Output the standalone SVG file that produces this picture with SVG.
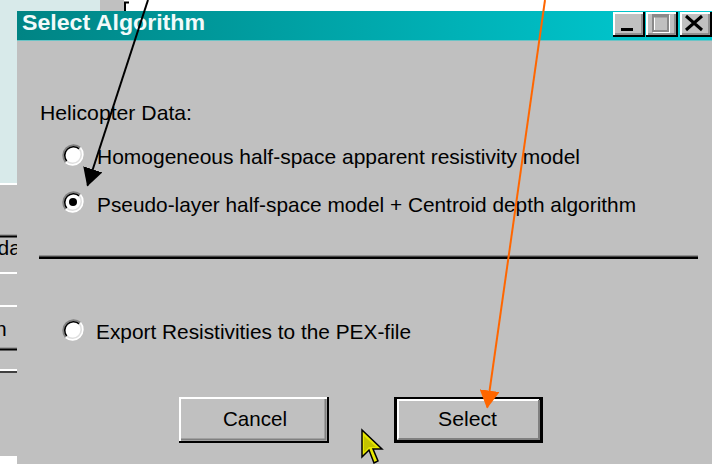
<svg xmlns="http://www.w3.org/2000/svg" xmlns:xlink="http://www.w3.org/1999/xlink" width="717" height="464" viewBox="0 0 717 464">
<style>
  .t { font-family: "Liberation Sans", Arial, sans-serif; font-size: 21px; fill: #000; }
  .title { font-family: "Liberation Sans", Arial, sans-serif; font-size: 22px; font-weight: bold; fill: #F2FAFA; }
  .face { fill: #C0C0C0; }
  .hl { stroke: #FFFFFF; stroke-width: 2; fill: none; }
  .sh { stroke: #808080; stroke-width: 2; fill: none; }
  .dk { stroke: #000000; stroke-width: 2; fill: none; }
  .conn { fill: none; stroke-width: 2; }
</style>
<defs>
  <linearGradient id="tbar" x1="0" y1="0" x2="1" y2="0">
    <stop offset="0" stop-color="#008484"/>
    <stop offset="1" stop-color="#00CCD4"/>
  </linearGradient>
  <clipPath id="leftclip"><rect x="0" y="0" width="17" height="464"/></clipPath>
  <g id="radio">
    <circle cx="0" cy="0" r="10" fill="#FFFFFF"/>
    <path d="M-7.4,7.4 A10.5,10.5 0 0 1 7.4,-7.4" stroke="#808080" stroke-width="1.6" fill="none"/>
    <path d="M-6.2,6.2 A8.8,8.8 0 0 1 6.2,-6.2" stroke="#000000" stroke-width="1.6" fill="none"/>
    <path d="M7.4,-7.4 A10.5,10.5 0 0 1 -7.4,7.4" stroke="#FFFFFF" stroke-width="1.6" fill="none"/>
    <path d="M6.2,-6.2 A8.8,8.8 0 0 1 -6.2,6.2" stroke="#DFDFDF" stroke-width="1.6" fill="none"/>
  </g>
  <marker id="headBlack" markerUnits="userSpaceOnUse" markerWidth="18" markerHeight="20" refX="17" refY="10" orient="auto" viewBox="0 0 18 20">
    <path d="M0,0 L18,10 L0,20 z" fill="#000000"/>
  </marker>
  <marker id="headOrange" markerUnits="userSpaceOnUse" markerWidth="18" markerHeight="20" refX="17" refY="10" orient="auto" viewBox="0 0 18 20">
    <path d="M0,0 L18,10 L0,20 z" fill="#FF6600"/>
  </marker>
</defs>

<!-- background window pieces -->
<rect x="0" y="0" width="717" height="464" fill="#FFFFFF"/>
<rect x="0" y="0" width="100" height="11" fill="#D8EAEA"/>
<rect x="100" y="0" width="24" height="11" fill="#C0C0C0"/>
<path d="M125,11 V2.5 H129" stroke="#000" stroke-width="2" fill="none"/>
<rect x="0" y="0" width="17" height="183" fill="#D8EAEA"/>
<rect x="0" y="183" width="17" height="273" fill="#C0C0C0"/>
<rect x="0" y="183" width="17" height="2" fill="#FFFFFF"/>
<rect x="0" y="234.5" width="17" height="1" fill="#808080"/>
<rect x="0" y="235.5" width="17" height="2" fill="#000000"/>
<rect x="0" y="272" width="17" height="2" fill="#FFFFFF"/>
<rect x="0" y="305" width="17" height="2" fill="#FFFFFF"/>
<rect x="0" y="347.5" width="17" height="1" fill="#808080"/>
<rect x="0" y="348.5" width="17" height="2" fill="#000000"/>
<rect x="0" y="369" width="17" height="2" fill="#FFFFFF"/>
<rect x="0" y="371" width="17" height="2" fill="#404040"/>
<g clip-path="url(#leftclip)">
  <text class="t" x="-2.5" y="255">da</text>
  <text class="t" x="-5" y="336">n</text>
</g>

<!-- dialog -->
<g id="dialog">
  <rect x="17" y="11" width="695" height="453" fill="#C0C0C0"/>
  <rect x="17" y="11" width="695" height="29" fill="url(#tbar)"/>
  <rect x="17" y="40" width="695" height="1" fill="#6CC4C6"/>
  <text class="title" x="22" y="30" textLength="183" lengthAdjust="spacingAndGlyphs">Select Algorithm</text>
</g>

<!-- title buttons -->
<g id="btn-min">
  <rect class="face" x="613" y="12" width="31" height="24"/>
  <path class="hl" d="M614,35 V13 H643"/>
  <path class="dk" d="M613,36 H644 V12"/>
  <path d="M615,34 H642 V14" stroke="#808080" stroke-width="1.5" fill="none"/>
  <rect x="621" y="28" width="12" height="3" fill="#000"/>
</g>
<g id="btn-max">
  <rect class="face" x="646" y="12" width="31" height="24"/>
  <path class="hl" d="M647,35 V13 H676"/>
  <path class="dk" d="M646,36 H677 V12"/>
  <path d="M648,34 H675 V14" stroke="#808080" stroke-width="1.5" fill="none"/>
  <rect x="654" y="16" width="15" height="16" fill="none" stroke="#FFFFFF" stroke-width="2"/>
  <rect x="653" y="15" width="15" height="16" fill="none" stroke="#8A8A8A" stroke-width="2"/>
  <rect x="653" y="15" width="15" height="2.5" fill="#8A8A8A"/>
</g>
<g id="btn-close">
  <rect class="face" x="680" y="12" width="31" height="24"/>
  <path class="hl" d="M681,35 V13 H710"/>
  <path class="dk" d="M680,36 H711 V12"/>
  <path d="M682,34 H709 V14" stroke="#808080" stroke-width="1.5" fill="none"/>
  <path d="M686,16 L702,30 M702,16 L686,30" stroke="#000" stroke-width="3"/>
</g>

<!-- group label -->
<g id="label-heli">
  <text class="t" x="40" y="120" textLength="152" lengthAdjust="spacingAndGlyphs">Helicopter Data:</text>
</g>

<g id="opt-homogeneous">
  <use xlink:href="#radio" href="#radio" x="73" y="155"/>
  <text class="t" x="97" y="164" textLength="483" lengthAdjust="spacingAndGlyphs">Homogeneous half-space apparent resistivity model</text>
</g>
<g id="opt-pseudo">
  <use xlink:href="#radio" href="#radio" x="73" y="202"/>
  <circle cx="73" cy="202" r="4" fill="#000"/>
  <text class="t" x="97" y="212" textLength="539" lengthAdjust="spacingAndGlyphs">Pseudo-layer half-space model + Centroid depth algorithm</text>
</g>

<g id="separator">
  <rect x="39" y="255.5" width="659" height="1" fill="#606060"/>
  <rect x="39" y="256.5" width="659" height="2.5" fill="#000000"/>
</g>

<g id="opt-export">
  <use xlink:href="#radio" href="#radio" x="73" y="330"/>
  <text class="t" x="96" y="339" textLength="315" lengthAdjust="spacingAndGlyphs">Export Resistivities to the PEX-file</text>
</g>

<g id="btn-cancel">
  <rect class="face" x="179" y="397" width="149" height="45"/>
  <path class="hl" d="M180,441 V398 H327"/>
  <path class="dk" d="M179,442 H328 V397"/>
  <path class="sh" d="M181,439.5 H325.5 V399"/>
  <text class="t" x="223" y="426" textLength="64" lengthAdjust="spacingAndGlyphs">Cancel</text>
</g>

<g id="btn-select">
  <rect class="face" x="394" y="397" width="149" height="46"/>
  <rect x="395.5" y="398.5" width="146" height="43" fill="none" stroke="#000" stroke-width="3"/>
  <path class="hl" d="M398,439 V400 H539"/>
  <path class="sh" d="M398.5,439 H539 V400"/>
  <text class="t" x="438" y="426" textLength="59" lengthAdjust="spacingAndGlyphs">Select</text>
</g>

<!-- mouse pointer -->
<g id="cursor">
  <path d="M362,430 L362,457 L369,450 L374,463 L378,461 L373,449 L382,449 Z" fill="#E8E800" stroke="#000" stroke-width="1.5" stroke-linejoin="miter"/>
  <path d="M364,436 L364,452 L369,447 L376,447 Z" fill="#9A9A00" opacity="0.45"/>
</g>

<g id="connectors">
  <line class="conn" x1="148" y1="0" x2="87.5" y2="185.5" stroke="#000000" marker-end="url(#headBlack)"/>
  <line class="conn" x1="545" y1="0" x2="487.2" y2="407.5" stroke="#FF6600" marker-end="url(#headOrange)"/>
</g>
</svg>
